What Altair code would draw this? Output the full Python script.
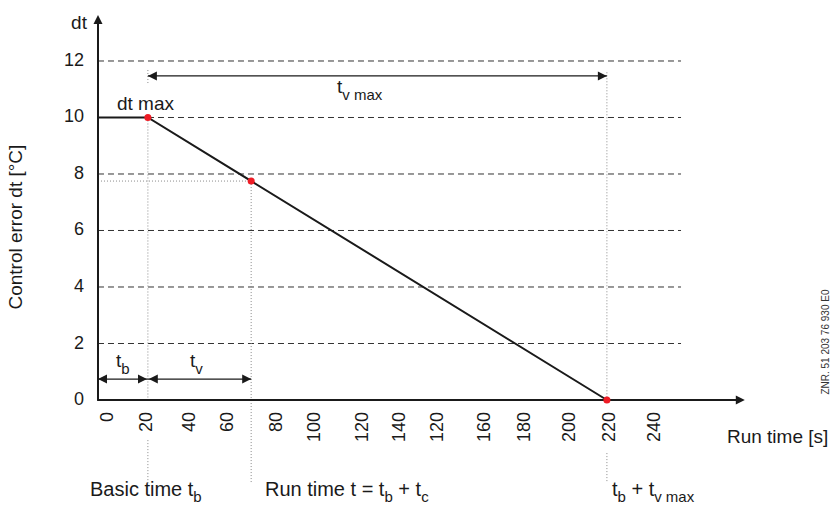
import altair as alt
import pandas as pd

# ---------------- data ----------------
line_t = [-1.74, 20, 220]
line_v = [10, 10, 0]
pts_t = [20, 65, 220]
pts_v = [10, 7.75, 0]
grid_v = [2, 4, 6, 8, 10, 12]
ytick_vals = [0, 2, 4, 6, 8, 10, 12]
xtick_labels = ["0", "20", "40", "60", "80", "100", "120", "140", "120",
                "160", "180", "200", "220", "240"]
xtick_pos = [2.6, 19.6, 38.3, 54.9, 76.3, 92.8, 113.7, 129.8, 146.4,
             166.9, 184.3, 203.9, 221.4, 241.0]

# ---------------- geometry ----------------
W, H = 831, 506
T_DOM = [-44.44, 317.65]
V_DOM = [-3.752, 14.159]
PX_T = W / (T_DOM[1] - T_DOM[0])
PX_V = H / (V_DOM[1] - V_DOM[0])
AX = -1.74          # position of the y axis
GRID_END = 252.3
X_TIP = 280.1
Y_TIP = 13.63

xs = alt.Scale(domain=T_DOM, nice=False, zero=False)
ys = alt.Scale(domain=V_DOM, nice=False, zero=False)
FONT = "Liberation Sans"
INK = "#1a1a1a"

def X(f="x"):
    return alt.X(f"{f}:Q", scale=xs, axis=None)

def Y(f="y"):
    return alt.Y(f"{f}:Q", scale=ys, axis=None)

def rules(df, **kw):
    return alt.Chart(df).mark_rule(**kw).encode(
        x=X("x"), x2="x2:Q", y=Y("y"), y2="y2:Q")

# grid (dashed)
grid_df = pd.DataFrame({"x": [AX] * len(grid_v), "x2": [GRID_END] * len(grid_v),
                        "y": grid_v, "y2": grid_v})
grid = rules(grid_df, stroke="#333333", strokeWidth=1, strokeDash=[6, 4])

# dotted guides
dot_df = pd.DataFrame({
    "x":  [20, 20, 20, 65, 220, 220, AX],
    "x2": [20, 20, 20, 65, 220, 220, 65],
    "y":  [11.68, 10, -1.42, 7.75, 11.6, -1.88, 7.75],
    "y2": [11.22, 0, -2.94, -2.94, 0, -2.94, 7.75],
})
dots = rules(dot_df, stroke="#8a8a8a", strokeWidth=1, strokeDash=[1, 2])

# dimension arrows
DIM_TOP = 11.47
DIM_LOW = 0.74
dim_df = pd.DataFrame({"x": [20, AX, 20], "x2": [220, 20, 65],
                       "y": [DIM_TOP, DIM_LOW, DIM_LOW], "y2": [DIM_TOP, DIM_LOW, DIM_LOW]})
dims = rules(dim_df, stroke=INK, strokeWidth=1.3)

# axes
axes_df = pd.DataFrame({"x": [AX - 0.3, AX], "x2": [X_TIP - 2, AX],
                        "y": [0, -0.03], "y2": [0, Y_TIP - 0.2]})
axes = rules(axes_df, stroke=INK, strokeWidth=2)

# main curve
curve = alt.Chart(pd.DataFrame({"x": line_t, "y": line_v, "o": range(len(line_t))})).mark_line(
    color=INK, strokeWidth=2).encode(x=X(), y=Y(), order="o:Q")

# arrow heads
P_RIGHT = "M0,0L-1,-0.5L-1,0.5Z"
P_LEFT = "M0,0L1,-0.5L1,0.5Z"
P_UP = "M0,0L-0.5,1L0.5,1Z"

def heads(xv, yv, path, size=324):
    return alt.Chart(pd.DataFrame({"x": xv, "y": yv})).mark_point(
        shape=path, filled=True, size=size, color=INK, opacity=1, strokeWidth=0
    ).encode(x=X(), y=Y())

h_right = heads([220, 19.6, 65, X_TIP], [DIM_TOP, DIM_LOW, DIM_LOW, 0], P_RIGHT)
h_left = heads([20, AX, 20.4], [DIM_TOP, DIM_LOW, DIM_LOW], P_LEFT)
h_up = heads([AX], [Y_TIP], P_UP)

# red points
red = alt.Chart(pd.DataFrame({"x": pts_t, "y": pts_v})).mark_circle(
    color="#ee1c25", size=50, opacity=1).encode(x=X(), y=Y())

# tick labels
yt = alt.Chart(pd.DataFrame({"x": [-7.84] * len(ytick_vals), "y": ytick_vals,
                             "t": [str(v) for v in ytick_vals]})).mark_text(
    align="right", baseline="middle", font=FONT, fontSize=18, color=INK
).encode(x=X(), y=Y(), text="t:N")

xt = alt.Chart(pd.DataFrame({"x": xtick_pos, "y": [-0.425] * len(xtick_pos),
                             "t": xtick_labels})).mark_text(
    align="right", baseline="middle", angle=270, font=FONT, fontSize=18, color=INK
).encode(x=X(), y=Y(), text="t:N")

# rich text annotations (main + subscript parts)
AW = {" ": 278, "B": 667, "a": 556, "s": 500, "i": 222, "c": 500, "t": 278,
      "m": 833, "e": 556, "R": 722, "u": 556, "n": 556, "=": 584, "+": 584,
      "b": 556, "v": 500, "x": 500, "d": 556}

def tw(s, size):
    return sum(AW.get(c, 556) for c in s) / 1000 * size

def rich(t0, v0, parts, main=19, sub=15, drop=7):
    rows, off = [], 0.0
    for txt, is_sub in parts:
        size = sub if is_sub else main
        lead = len(txt) - len(txt.lstrip(" "))
        off += tw(" " * lead, size)
        body = txt.lstrip(" ")
        rows.append({"x": t0 + off / PX_T,
                     "y": v0 - (drop / PX_V if is_sub else 0),
                     "t": body, "size": size})
        off += tw(body, size)
    return rows

ann = []
ann += rich(6.54, 10.27, [("dt max", False)])
ann += rich(102.4, 10.87, [("t", False), ("v max", True)])
ann += rich(6.1, 1.17, [("t", False), ("b", True)])
ann += rich(38.3, 1.17, [("t", False), ("v", True)])
BOT = -3.40
ann += rich(-5.23, BOT, [("Basic time t", False), ("b", True)], main=20, drop=6)
ann += rich(71.0, BOT, [("Run time t = t", False), ("b", True), (" + t", False), ("c", True)],
            main=20, drop=6)
ann += rich(222.2, BOT, [("t", False), ("b", True), (" + t", False), ("v max", True)],
            main=20, drop=6)
ann += rich(272.3, -1.52, [("Run time [s]", False)])
ann_df = pd.DataFrame(ann)

ann_layers = []
for sz in sorted(ann_df["size"].unique()):
    ann_layers.append(alt.Chart(ann_df[ann_df["size"] == sz]).mark_text(
        align="left", baseline="alphabetic", font=FONT, fontSize=float(sz), color=INK
    ).encode(x=X(), y=Y(), text="t:N"))

dt_lbl = alt.Chart(pd.DataFrame({"x": [-6.54], "y": [13.13], "t": ["dt"]})).mark_text(
    align="right", baseline="alphabetic", font=FONT, fontSize=19, color=INK
).encode(x=X(), y=Y(), text="t:N")

ytitle = alt.Chart(pd.DataFrame({"x": [-37.5], "y": [6.12], "t": ["Control error dt [°C]"]})).mark_text(
    align="center", baseline="middle", angle=270, font=FONT, fontSize=19, color=INK
).encode(x=X(), y=Y(), text="t:N")

znr = alt.Chart(pd.DataFrame({"x": [315.5], "y": [2.05], "t": ["ZNR. 51 203 76 930 E0"]})).mark_text(
    align="center", baseline="middle", angle=270, font=FONT, fontSize=10, color="#333333"
).encode(x=X(), y=Y(), text="t:N")

chart = alt.layer(
    grid, dots, dims, axes, curve, h_right, h_left, h_up, red,
    yt, xt, *ann_layers, dt_lbl, ytitle, znr
).properties(
    width=W, height=H, autosize=alt.AutoSizeParams(type="none"), padding=0,
    background="white"
).configure_view(stroke=None)

chart.save("out.html", embed_options={"renderer": "svg", "actions": False})
